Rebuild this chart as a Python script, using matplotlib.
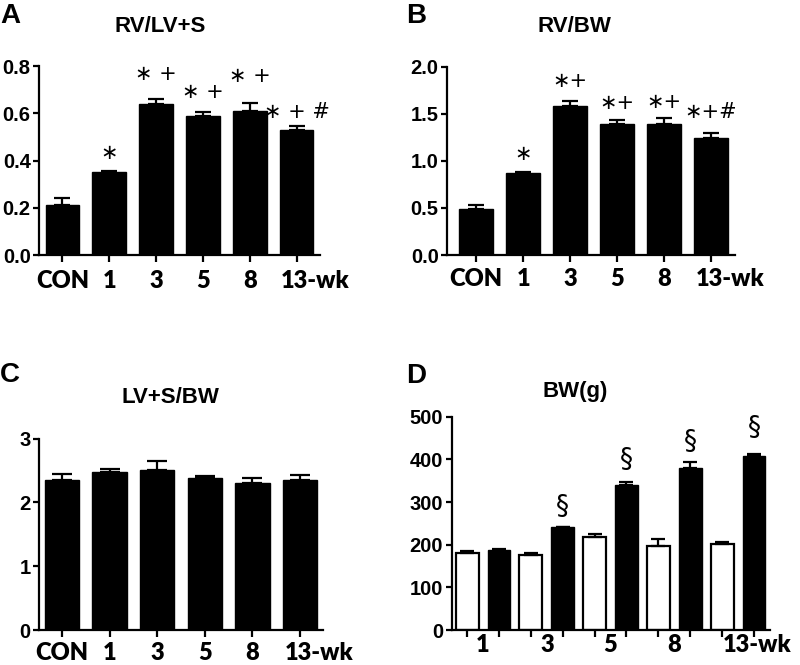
import matplotlib
matplotlib.use("Agg")
import matplotlib.pyplot as plt
from matplotlib.transforms import ScaledTranslation
from matplotlib.ticker import FormatStrFormatter
import numpy as np

# ---------------- data ----------------
groups = ["CON", "1", "3", "5", "8", "13-wk"]

rv_lvs = [0.213, 0.351, 0.639, 0.587, 0.608, 0.529]
rv_lvs_err = [0.030, 0.006, 0.023, 0.018, 0.034, 0.017]
rv_lvs_marks = ["", "∗", "∗ +", "∗ +", "∗ +", "∗ + #"]

rv_bw = [0.489, 0.871, 1.583, 1.391, 1.388, 1.246]
rv_bw_err = [0.045, 0.014, 0.056, 0.039, 0.070, 0.050]
rv_bw_marks = ["", "∗", "∗+", "∗+", "∗+", "∗+#"]

lvs_bw = [2.35, 2.47, 2.51, 2.38, 2.30, 2.35]
lvs_bw_err = [0.09, 0.05, 0.14, 0.04, 0.085, 0.08]

weeks = ["1", "3", "5", "8", "13-wk"]
bw_con = [181, 175, 219, 197, 201]
bw_con_err = [4, 5, 5, 17, 6]
bw_pah = [188, 241, 340, 380, 407]
bw_pah_err = [1, 1, 8, 13, 5]
bw_marks = ["", "§", "§", "§", "§"]

# ---------------- style ----------------
plt.rcParams["font.family"] = ["Liberation Sans", "DejaVu Sans"]
plt.rcParams["font.weight"] = "bold"
SP_LW = 1.6
fig = plt.figure(figsize=(8, 6.65), dpi=100)

XT_FAMILY = "Lato"
XT_WEIGHT = "heavy"
XT_SIZE = 17
MARK_FONT = dict(family=["DejaVu Sans"], size=15, weight="normal")
SEC_FONT = dict(family=["DejaVu Sans"], size=19, weight="normal")


def bold_labels(labels, family, size, weight):
    for lab in labels:
        lab.set_fontfamily(family)
        lab.set_fontsize(size)
        lab.set_fontweight(weight)


def style_axes(ax, ylim, yticks, yfmt):
    ax.set_ylim(*ylim)
    ax.set_yticks(yticks)
    ax.yaxis.set_major_formatter(FormatStrFormatter(yfmt))
    for s in ("top", "right"):
        ax.spines[s].set_visible(False)
    for s in ("left", "bottom"):
        ax.spines[s].set_linewidth(SP_LW)
    ax.tick_params(axis="y", direction="out", length=4, width=SP_LW, pad=2)
    bold_labels(ax.get_yticklabels(), "Liberation Sans", 14.5, "bold")


def bar_panel(rect, vals, errs, marks, mark_off, ylim, yticks, yfmt,
              xlim, capsize, xpad):
    ax = fig.add_axes(rect)
    x = np.arange(len(vals))
    ax.bar(x, vals, width=0.72, color="black", edgecolor="black",
           linewidth=1.0, zorder=2)
    ax.errorbar(x, vals, yerr=[np.zeros(len(errs)), errs], fmt="none",
                ecolor="black", elinewidth=1.6, capsize=capsize,
                capthick=1.6, zorder=3)
    if marks is not None:
        for xi, v, e, m, off in zip(x, vals, errs, marks, mark_off):
            if m:
                ax.annotate(m, xy=(xi, v + e), xytext=(0, off),
                            textcoords="offset points", ha="center",
                            va="center", annotation_clip=False, **MARK_FONT)
    ax.set_xlim(*xlim)
    ax.set_xticks(x)
    ax.set_xticklabels(groups)
    ax.tick_params(axis="x", direction="out", length=5, width=SP_LW, pad=xpad)
    bold_labels(ax.get_xticklabels(), XT_FAMILY, XT_SIZE, XT_WEIGHT)
    last = ax.get_xticklabels()[-1]
    last.set_transform(last.get_transform() +
                       ScaledTranslation(0.19, 0, fig.dpi_scale_trans))
    style_axes(ax, ylim, yticks, yfmt)
    return ax


# Panel A
bar_panel([0.04875, 0.6165, 0.35125, 0.2842], rv_lvs, rv_lvs_err,
          rv_lvs_marks, [0, 13, 18, 14.8, 20, 10.4], (0, 0.8),
          [0, 0.2, 0.4, 0.6, 0.8], "%.1f", (-0.5, 5.5), 6, 6.0)
# Panel B
bar_panel([0.55875, 0.6165, 0.36, 0.2832], rv_bw, rv_bw_err,
          rv_bw_marks, [0, 13, 14.4, 12.2, 11.5, 15.1], (0, 2.0),
          [0, 0.5, 1.0, 1.5, 2.0], "%.1f", (-0.62, 5.51), 6, 4.3)
# Panel C
bar_panel([0.04875, 0.05263, 0.355, 0.2877], lvs_bw, lvs_bw_err,
          None, None, (0, 3), [0, 1, 2, 3], "%d", (-0.48, 5.48), 7, 3.6)

# Panel D
axd = fig.add_axes([0.5644, 0.05263, 0.398, 0.3208])
n = len(weeks)
xc = np.arange(n) * 2
xp = xc + 1
axd.bar(xc, bw_con, width=0.72, color="white", edgecolor="black",
        linewidth=1.6, zorder=2)
axd.bar(xp, bw_pah, width=0.72, color="black", edgecolor="black",
        linewidth=1.0, zorder=2)
axd.errorbar(xc, bw_con, yerr=[np.zeros(n), bw_con_err], fmt="none",
             ecolor="black", elinewidth=1.6, capsize=4.8, capthick=1.6, zorder=3)
axd.errorbar(xp, bw_pah, yerr=[np.zeros(n), bw_pah_err], fmt="none",
             ecolor="black", elinewidth=1.6, capsize=4.8, capthick=1.6, zorder=3)
for xi, v, e, m, off in zip(xp, bw_pah, bw_pah_err, bw_marks,
                            [0, 14.4, 15.8, 14.4, 19]):
    if m:
        axd.annotate(m, xy=(xi, v + e), xytext=(0, off),
                     textcoords="offset points", ha="center", va="center",
                     annotation_clip=False, **SEC_FONT)
axd.set_xlim(-0.49, 9.5)
axd.set_xticks(np.arange(2 * n))
axd.set_xticklabels([])
axd.set_xticks(xc + 0.5, minor=True)
axd.set_xticklabels(weeks, minor=True)
axd.tick_params(axis="x", which="major", direction="out", length=5,
                width=SP_LW)
axd.tick_params(axis="x", which="minor", length=0, pad=3)
bold_labels(axd.get_xticklabels(minor=True), XT_FAMILY, XT_SIZE, XT_WEIGHT)
lastd = axd.get_xticklabels(minor=True)[-1]
lastd.set_transform(lastd.get_transform() +
                    ScaledTranslation(0.19, 0, fig.dpi_scale_trans))
style_axes(axd, (0, 500), [0, 100, 200, 300, 400, 500], "%d")

# titles and panel letters (pixel positions -> figure fraction)
W, H = 800.0, 665.0
TF = dict(weight="bold", size=16, family="Liberation Sans",
          ha="center", va="baseline")
fig.text(160 / W, 1 - 31.7 / H, "RV/LV+S", **TF)
fig.text(574 / W, 1 - 32.3 / H, "RV/BW", **TF)
fig.text(170 / W, 1 - 402.7 / H, "LV+S/BW", **TF)
fig.text(575 / W, 1 - 397 / H, "BW(g)", **TF)

LF = dict(weight="bold", size=20, family="Liberation Sans",
          ha="left", va="baseline")
fig.text(0 / W, 1 - 23 / H, "A", **LF)
fig.text(406 / W, 1 - 23 / H, "B", **LF)
fig.text(0 / W, 1 - 382 / H, "C", **LF)
fig.text(406 / W, 1 - 383 / H, "D", **LF)

fig.savefig("out.png", dpi=100)
